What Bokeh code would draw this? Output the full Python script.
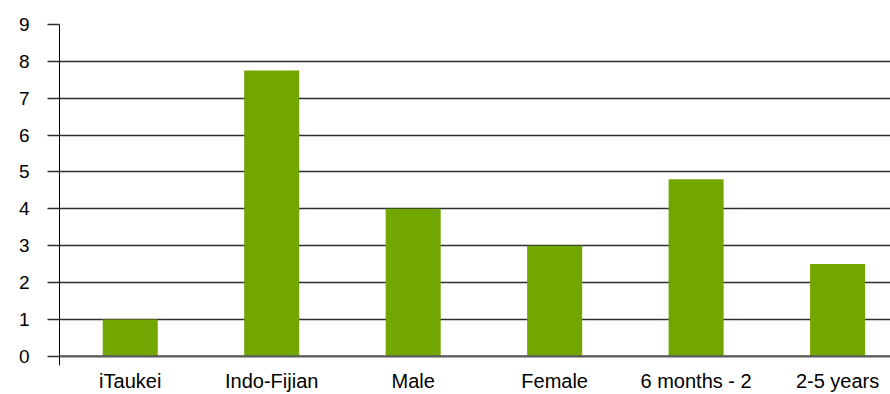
from bokeh.plotting import figure
from bokeh.models import Range1d, FixedTicker, ColumnDataSource, Span
from bokeh.embed import file_html
from bokeh.resources import INLINE

categories = ["iTaukei", "Indo-Fijian", "Male", "Female", "6 months - 2", "2-5 years"]
values = [1, 7.75, 4, 3, 4.8, 2.5]
y_ticks = [0, 1, 2, 3, 4, 5, 6, 7, 8, 9]

positions = list(range(len(categories)))
src = ColumnDataSource(dict(x=positions, top=values))

p = figure(width=890, height=394, output_backend="svg", toolbar_location=None,
           x_range=Range1d(-0.5, 5.374), y_range=Range1d(-0.25, 9),
           min_border_left=59, min_border_right=0, min_border_top=24,
           min_border_bottom=27, outline_line_color=None)

p.vbar(x="x", top="top", bottom=0, width=0.389, source=src,
       fill_color="#72a600", line_color=None)

grid_color = "#2e2e2e"
p.xgrid.visible = False
p.ygrid.ticker = FixedTicker(ticks=y_ticks)
p.ygrid.grid_line_color = grid_color
p.ygrid.grid_line_width = 1.3

p.add_layout(Span(location=0, dimension="width", line_color="#5a5a5a", line_width=2))

xa = p.xaxis[0]
xa.ticker = FixedTicker(ticks=positions)
xa.major_label_overrides = {i: c for i, c in zip(positions, categories)}
xa.axis_line_color = None
xa.major_tick_line_color = None
xa.minor_tick_line_color = None
xa.major_tick_out = 0
xa.major_tick_in = 0
xa.major_label_standoff = 4
xa.major_label_text_font = "Liberation Sans"
xa.major_label_text_font_size = "20px"
xa.major_label_text_color = "black"

ya = p.yaxis[0]
ya.ticker = FixedTicker(ticks=y_ticks)
ya.axis_line_color = "black"
ya.axis_line_width = 1
ya.major_tick_out = 12
ya.major_tick_in = 0
ya.major_tick_line_color = grid_color
ya.major_tick_line_width = 1.3
ya.minor_tick_line_color = None
ya.major_label_standoff = 18
ya.major_label_text_font = "Liberation Sans"
ya.major_label_text_font_size = "19px"
ya.major_label_text_color = "black"

open("out.html", "w").write(file_html(p, INLINE))
